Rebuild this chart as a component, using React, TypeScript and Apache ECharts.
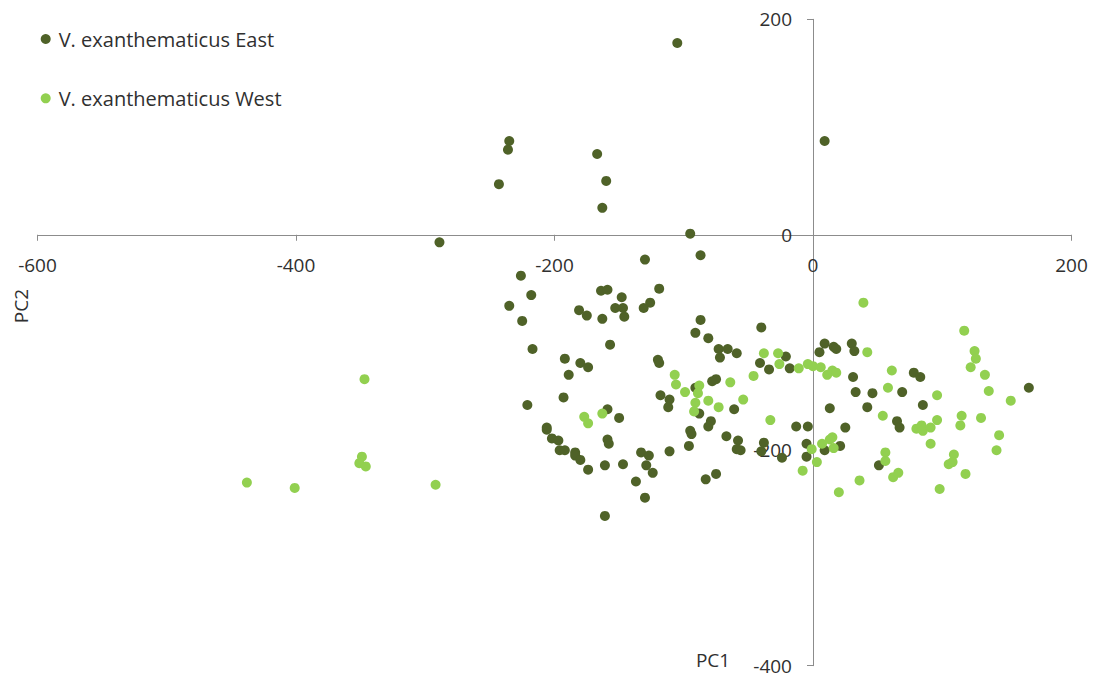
import React, { useEffect, useRef } from "react";
import * as echarts from "echarts";

const xTicks = [-600, -400, -200, 0, 200];
const yTicks = [-400, -200, 0, 200];
const seriesNames = ["V. exanthematicus East", "V. exanthematicus West"];
const axisTitles = { x: "PC1", y: "PC2" };

const eastPoints: [number, number][] = [
  [-105, 178], [9, 87], [-235, 87], [-236, 79], [-243, 47], [-167, 75], [-160, 50], [-163, 25],
  [-289, -7], [-95, 1], [-87, -19], [-130, -23], [-226, -38], [-218, -56], [-235, -66], [-225, -80],
  [-217, -106], [-192, -115], [-189, -130], [-180, -119], [-174, -123], [-181, -70], [-175, -75],
  [-163, -78], [-164, -52], [-159, -51], [-148, -58], [-153, -68], [-147, -68], [-146, -76],
  [-157, -102], [-119, -50], [-126, -63], [-131, -68], [-87, -79], [-91, -91], [-120, -116],
  [-119, -119], [-221, -158], [-193, -151], [-159, -162], [-150, -170], [-206, -179], [-206, -181],
  [-202, -189], [-197, -191], [-196, -200], [-192, -200], [-184, -202], [-184, -205], [-180, -209],
  [-174, -218], [-161, -214], [-159, -190], [-158, -194], [-147, -213], [-161, -261], [-137, -229],
  [-130, -244], [-133, -202], [-127, -205], [-129, -214], [-124, -221], [-111, -201], [-96, -196],
  [-95, -182], [-94, -185], [-118, -149], [-111, -153], [-112, -160], [-91, -142], [-88, -166],
  [-81, -96], [-40, -86], [-73, -106], [-66, -106], [-59, -110], [-72, -114], [-21, -113],
  [-41, -119], [-34, -125], [-18, -124], [9, -101], [5, -109], [16, -104], [18, -106], [13, -161],
  [-78, -136], [-75, -134], [-61, -162], [-79, -173], [-81, -178], [-13, -178], [-4, -178],
  [-67, -187], [-58, -191], [-59, -199], [-56, -200], [-83, -227], [-75, -222], [-38, -193],
  [-40, -201], [-24, -207], [-5, -194], [-5, -206], [9, -200], [30, -101], [32, -108], [78, -128],
  [83, -132], [31, -132], [33, -146], [46, -147], [69, -146], [85, -158], [42, -160], [65, -173],
  [67, -179], [25, -179], [21, -196], [51, -214], [167, -142],
];

const westPoints: [number, number][] = [
  [-107, -130], [-106, -139], [-177, -169], [-174, -175], [-163, -166], [-99, -146], [-91, -156],
  [-92, -164], [-38, -110], [-27, -110], [-26, -120], [-11, -124], [-4, -120], [0, -122], [6, -123],
  [11, -130], [15, -126], [18, -128], [-88, -140], [-89, -147], [-81, -154], [-64, -137], [-46, -131],
  [-54, -153], [-73, -160], [-33, -172], [-1, -199], [7, -194], [15, -188], [16, -198], [3, -211],
  [-8, -219], [20, -239], [39, -63], [42, -109], [61, -126], [58, -142], [96, -149], [54, -168],
  [13, -190], [56, -202], [56, -210], [62, -225], [66, -221], [36, -228], [80, -180], [84, -177],
  [85, -182], [91, -179], [96, -172], [91, -194], [98, -236], [105, -213], [117, -89], [125, -108],
  [126, -115], [122, -123], [133, -130], [136, -145], [153, -154], [115, -168], [114, -177],
  [130, -170], [109, -204], [108, -211], [118, -222], [144, -186], [142, -200], [-347, -134],
  [-349, -206], [-351, -212], [-346, -215], [-438, -230], [-401, -235], [-292, -232],
];

const EAST_COLOR = "#4F6228";
const WEST_COLOR = "#92D050";
const FONT = "'Open Sans', sans-serif";
const TEXT_COLOR = "#303030";
const AXIS_COLOR = "#8c8c8c";

const W = 1100;
const H = 677;
const G_LEFT = 37.5;
const G_RIGHT = 28.5;
const G_TOP = 19.3;
const G_BOTTOM = 11.3;

export default function App() {
  const ref = useRef<HTMLDivElement>(null);

  useEffect(() => {
    if (!ref.current) return;
    const chart = echarts.init(ref.current, undefined, { renderer: "svg" });

    const xMin = xTicks[0];
    const xMax = xTicks[xTicks.length - 1];
    const yMin = yTicks[0];
    const yMax = yTicks[yTicks.length - 1];
    const plotW = W - G_LEFT - G_RIGHT;
    const plotH = H - G_TOP - G_BOTTOM;
    const zeroX = G_LEFT + (plotW * (0 - xMin)) / (xMax - xMin);
    const zeroY = G_TOP + (plotH * (yMax - 0)) / (yMax - yMin);

    const hiddenX = (gridIndex: number) => ({
      type: "value",
      gridIndex,
      min: xMin,
      max: xMax,
      interval: 200,
      show: false,
    });
    const hiddenY = (gridIndex: number) => ({
      type: "value",
      gridIndex,
      min: yMin,
      max: yMax,
      interval: 200,
      show: false,
    });

    chart.setOption({
      animation: false,
      backgroundColor: "#ffffff",
      textStyle: { fontFamily: FONT },
      grid: [
        { left: G_LEFT, right: G_RIGHT, top: G_TOP, bottom: G_BOTTOM, containLabel: false, outerBoundsMode: "none" },
        { left: G_LEFT, right: G_RIGHT, top: G_TOP, bottom: H - zeroY, containLabel: false, outerBoundsMode: "none" },
        { left: zeroX, right: G_RIGHT, top: G_TOP, bottom: G_BOTTOM, containLabel: false, outerBoundsMode: "none" },
      ],
      legend: {
        orient: "vertical",
        left: 40.7,
        top: 28,
        padding: 0,
        itemWidth: 10,
        itemHeight: 10,
        itemGap: 37.3,
        icon: "circle",
        textStyle: { fontFamily: FONT, fontSize: 20, color: TEXT_COLOR, padding: [0, 0, 0, 3], lineHeight: 22 },
        data: seriesNames,
      },
      xAxis: [
        hiddenX(0),
        {
          type: "value",
          gridIndex: 1,
          position: "bottom",
          min: xMin,
          max: xMax,
          interval: 200,
          axisLine: { show: true, onZero: false, lineStyle: { color: AXIS_COLOR, width: 1 } },
          axisTick: { show: true, length: 6, lineStyle: { color: AXIS_COLOR } },
          axisLabel: { margin: 21, fontSize: 19, lineHeight: 19, color: TEXT_COLOR, fontFamily: FONT },
          splitLine: { show: false },
        },
        hiddenX(2),
      ],
      yAxis: [
        hiddenY(0),
        hiddenY(1),
        {
          type: "value",
          gridIndex: 2,
          position: "left",
          min: yMin,
          max: yMax,
          interval: 200,
          axisLine: { show: true, onZero: false, lineStyle: { color: AXIS_COLOR, width: 1 } },
          axisTick: { show: true, length: 6, lineStyle: { color: AXIS_COLOR } },
          axisLabel: { margin: 21, fontSize: 19, lineHeight: 19, color: TEXT_COLOR, fontFamily: FONT },
          splitLine: { show: false },
        },
      ],
      graphic: [
        {
          type: "text",
          x: 21,
          y: 306,
          rotation: Math.PI / 2,
          style: {
            text: axisTitles.y,
            fontSize: 19,
            fontFamily: FONT,
            fill: TEXT_COLOR,
            align: "center",
            verticalAlign: "middle",
          },
        },
        {
          type: "text",
          x: 713,
          y: 660,
          style: {
            text: axisTitles.x,
            fontSize: 19,
            fontFamily: FONT,
            fill: TEXT_COLOR,
            align: "center",
            verticalAlign: "middle",
          },
        },
      ],
      series: [
        {
          name: seriesNames[0],
          type: "scatter",
          xAxisIndex: 0,
          yAxisIndex: 0,
          symbol: "circle",
          symbolSize: 10,
          itemStyle: { color: EAST_COLOR, opacity: 1 },
          data: eastPoints,
        },
        {
          name: seriesNames[1],
          type: "scatter",
          xAxisIndex: 0,
          yAxisIndex: 0,
          symbol: "circle",
          symbolSize: 10,
          itemStyle: { color: WEST_COLOR, opacity: 1 },
          data: westPoints,
        },
      ],
    });
    return () => chart.dispose();
  }, []);

  return (
    <div
      ref={ref}
      style={{ position: "fixed", left: 0, top: 0, width: W, height: H, background: "#fff" }}
    />
  );
}
